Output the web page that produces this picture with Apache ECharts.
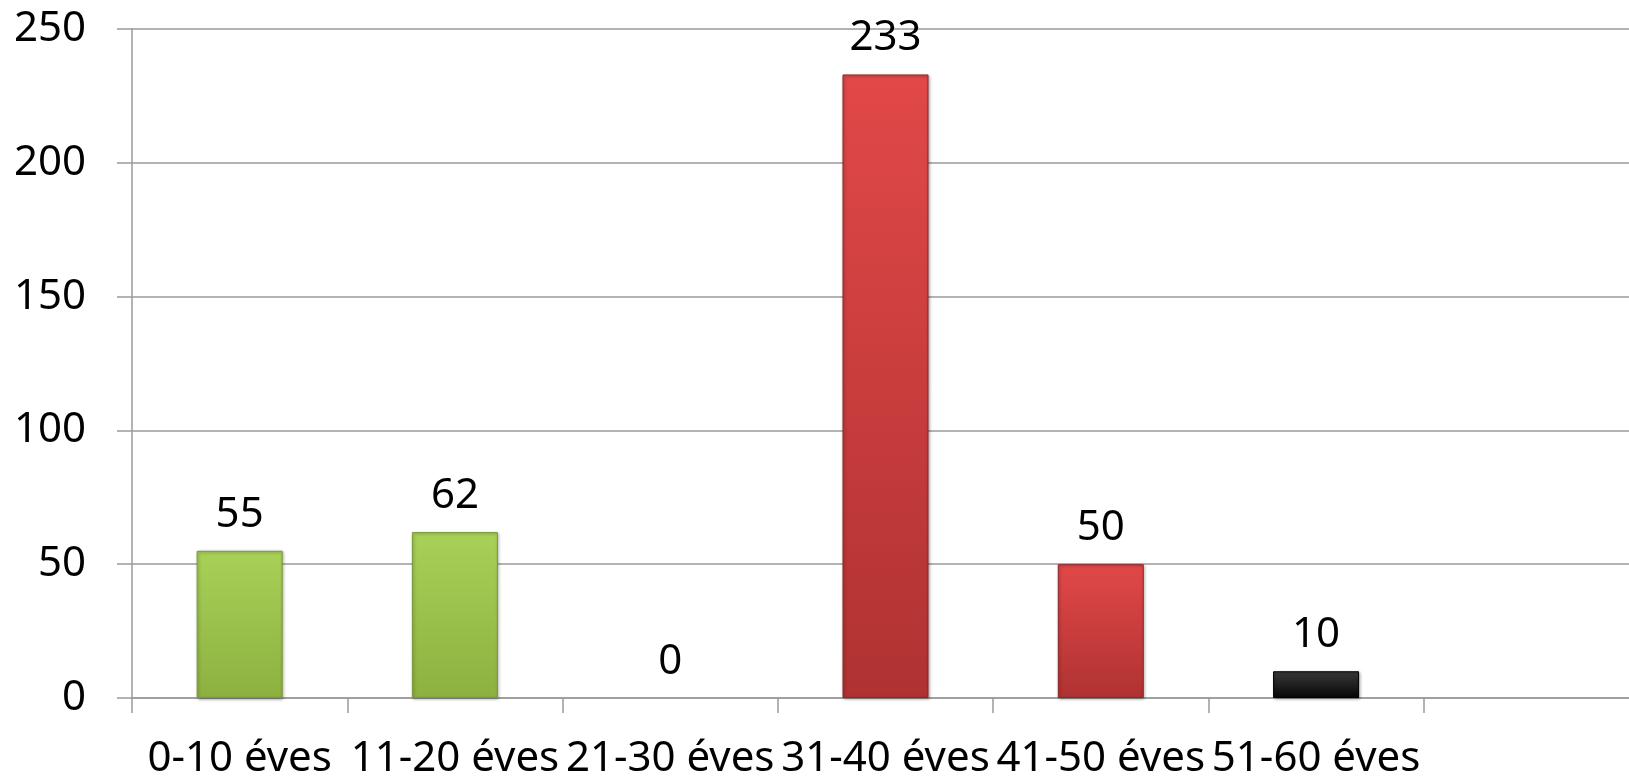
<!DOCTYPE html>
<html>
<head>
<meta charset="utf-8">
<script src="https://cdn.jsdelivr.net/npm/echarts@6/dist/echarts.min.js"></script>
<style>
html,body{margin:0;padding:0;background:#fff;overflow:hidden;}
#c{width:1648px;height:781px;}
</style>
</head>
<body>
<div id="c"></div>
<script>
// Data
var categories = ["0-10 éves", "11-20 éves", "21-30 éves", "31-40 éves", "41-50 éves", "51-60 éves", ""];
var values = [55, 62, 0, 233, 50, 10, null];
var yTicks = { min: 0, max: 250, interval: 50 };

// Styles (by category index)
var palette = {
  green: ['#a8d158', '#8db140', '#7a9a36'],
  red:   ['#e24848', '#b03232', '#8e2626'],
  black: ['#3a3a3a', '#050505', '#000000']
};
var barGroup = ['green', 'green', 'green', 'red', 'red', 'black', 'black'];

function grad(c) {
  return new echarts.graphic.LinearGradient(0, 0, 0, 1, [
    { offset: 0, color: c[0] },
    { offset: 1, color: c[1] }
  ]);
}

var chart = echarts.init(document.getElementById('c'), null, { renderer: 'canvas' });
var font = '"Noto Sans", "Open Sans", sans-serif';

chart.setOption({
  animation: false,
  backgroundColor: '#ffffff',
  grid: { left: 132, top: 29, width: 1507, height: 669, containLabel: false },
  xAxis: {
    type: 'category',
    data: categories,
    boundaryGap: true,
    axisLine: { show: true, lineStyle: { color: '#9a9a9a', width: 1.5 } },
    axisTick: { show: true, length: 15, alignWithLabel: false, lineStyle: { color: '#9a9a9a', width: 1.5 } },
    axisLabel: { interval: 0, margin: 40, color: '#000', fontSize: 42, fontFamily: font },
    splitLine: { show: false }
  },
  yAxis: {
    type: 'value',
    min: yTicks.min,
    max: yTicks.max,
    interval: yTicks.interval,
    axisLine: { show: true, lineStyle: { color: '#9a9a9a', width: 1.5 } },
    axisTick: { show: true, length: 15, lineStyle: { color: '#9a9a9a', width: 1.5 } },
    axisLabel: { margin: 46, color: '#000', fontSize: 42, fontFamily: font },
    splitLine: { show: true, lineStyle: { color: '#9a9a9a', width: 1.5 } }
  },
  series: [{
    type: 'bar',
    data: values.map(function (v, i) {
      var c = palette[barGroup[i]];
      var empty = !v;
      return {
        value: v,
        itemStyle: {
          color: empty ? 'rgba(0,0,0,0)' : grad(c),
          borderColor: c[2],
          borderWidth: empty ? 0 : 1,
          shadowColor: empty ? 'rgba(0,0,0,0)' : 'rgba(0,0,0,0.35)',
          shadowBlur: 3,
          shadowOffsetX: 1,
          shadowOffsetY: 1
        }
      };
    }),
    barWidth: 86,
    label: {
      show: true,
      position: 'top',
      distance: 15,
      color: '#000',
      fontSize: 42,
      fontFamily: font,
      formatter: function (p) { return p.value == null ? '' : String(p.value); }
    }
  }]
});
</script>
</body>
</html>
